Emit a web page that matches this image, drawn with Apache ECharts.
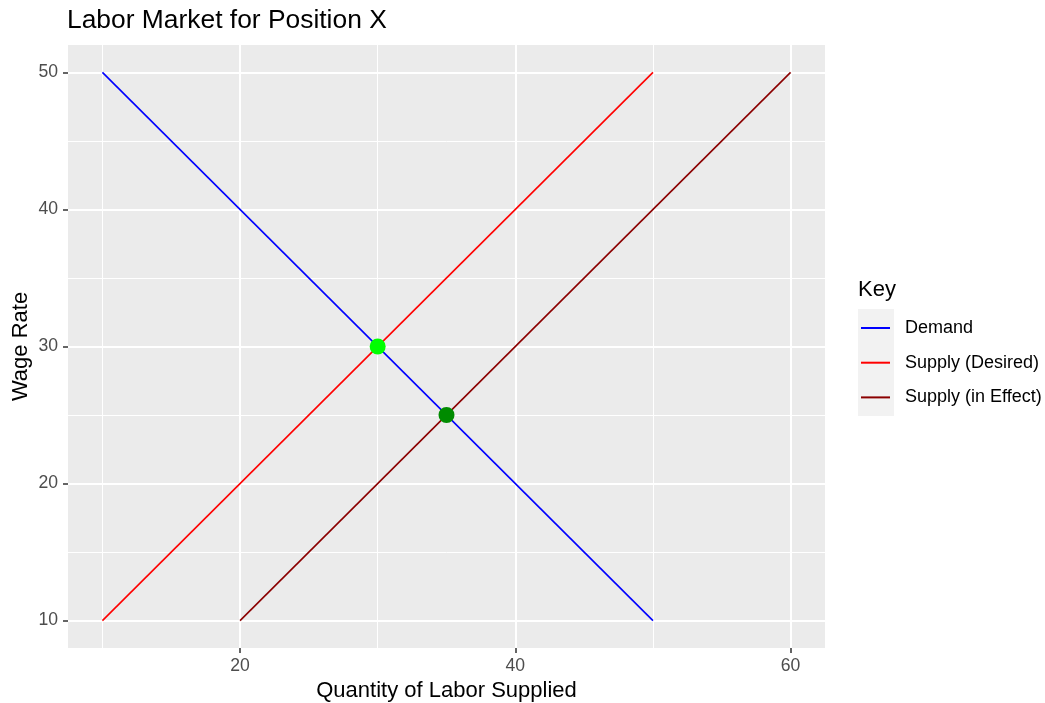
<!DOCTYPE html>
<html>
<head>
<meta charset="utf-8">
<script src="https://cdn.jsdelivr.net/npm/echarts@6/dist/echarts.min.js"></script>
<style>html,body{margin:0;padding:0;background:#fff}#c{width:1045px;height:703px}</style>
</head>
<body>
<div id="c"></div>
<script>
const titleText = 'Labor Market for Position X';
const xTitle = 'Quantity of Labor Supplied';
const yTitle = 'Wage Rate';
const legendTitle = 'Key';

const xMajorTicks = [20, 40, 60];
const xMinorTicks = [10, 30, 50];
const yMajorTicks = [10, 20, 30, 40, 50];
const yMinorTicks = [15, 25, 35, 45];

const demandQty = [10, 50];
const demandWage = [50, 10];
const supplyDesiredQty = [10, 50];
const supplyDesiredWage = [10, 50];
const supplyEffectQty = [20, 60];
const supplyEffectWage = [10, 50];

const eqDesired = [30, 30];
const eqEffect = [35, 25];

const seriesNames = ['Demand', 'Supply (Desired)', 'Supply (in Effect)'];

const pairs = (xs, ys) => xs.map((x, i) => [x, ys[i]]);
const FONT = 'Liberation Sans, Arial, sans-serif';

const chart = echarts.init(document.getElementById('c'), null, {renderer: 'canvas'});

const majorAxisX = {
  type: 'value', min: 7.5, max: 62.5, position: 'bottom',
  axisLine: {show: false},
  axisTick: {show: true, length: 5, lineStyle: {color: '#333333', width: 1.5}, customValues: xMajorTicks},
  axisLabel: {show: true, color: '#4D4D4D', fontSize: 17.6, fontFamily: FONT, margin: 9, customValues: xMajorTicks},
  splitLine: {show: true, lineStyle: {color: '#FFFFFF', width: 2}},
  name: xTitle, nameLocation: 'middle', nameGap: 32, nameMoveOverlap: false,
  nameTextStyle: {color: '#000000', fontSize: 22, fontFamily: FONT}
};
const minorAxisX = {
  type: 'value', min: 7.5, max: 62.5, position: 'bottom',
  axisLine: {show: false},
  axisTick: {show: false, customValues: xMinorTicks},
  axisLabel: {show: false, customValues: xMinorTicks},
  splitLine: {show: true, lineStyle: {color: '#FFFFFF', width: 1}}
};
const majorAxisY = {
  type: 'value', min: 8, max: 52, position: 'left',
  axisLine: {show: false},
  axisTick: {show: true, length: 5, lineStyle: {color: '#333333', width: 1.5}, customValues: yMajorTicks},
  axisLabel: {show: true, color: '#4D4D4D', fontSize: 17.6, fontFamily: FONT, margin: 10, customValues: yMajorTicks},
  splitLine: {show: true, lineStyle: {color: '#FFFFFF', width: 2}},
  name: yTitle, nameLocation: 'middle', nameGap: 36, nameRotate: 90, nameMoveOverlap: false,
  nameTextStyle: {color: '#000000', fontSize: 22, fontFamily: FONT}
};
const minorAxisY = {
  type: 'value', min: 8, max: 52, position: 'left',
  axisLine: {show: false},
  axisTick: {show: false, customValues: yMinorTicks},
  axisLabel: {show: false, customValues: yMinorTicks},
  splitLine: {show: true, lineStyle: {color: '#FFFFFF', width: 1}}
};

const lineSeries = (name, data, color) => ({
  name, type: 'line', data, xAxisIndex: 0, yAxisIndex: 0,
  symbol: 'none', color, lineStyle: {color, width: 1.6}, z: 3, silent: true
});

chart.setOption({
  animation: false,
  backgroundColor: '#FFFFFF',
  textStyle: {fontFamily: FONT},
  title: [
    {text: titleText, left: 67, top: 8, padding: 0,
     textStyle: {fontSize: 26.4, fontWeight: 'normal', color: '#000000', fontFamily: FONT}},
    {text: legendTitle, left: 858, top: 279, padding: 0,
     textStyle: {fontSize: 22, fontWeight: 'normal', color: '#000000', fontFamily: FONT}}
  ],
  grid: {left: 68, right: 220, top: 45, bottom: 55, show: true, backgroundColor: '#EBEBEB', borderWidth: 0,
         containLabel: false, outerBoundsMode: 'none'},
  xAxis: [majorAxisX, minorAxisX],
  yAxis: [majorAxisY, minorAxisY],
  legend: {
    data: seriesNames, orient: 'vertical', left: 861, top: 319, padding: 0,
    icon: 'rect', itemWidth: 29, itemHeight: 2, itemGap: 16.7,
    textStyle: {fontSize: 18, color: '#000000', fontFamily: FONT, lineHeight: 18, padding: [0, 0, 0, 10]},
    selectedMode: false
  },
  graphic: [
    {type: 'rect', left: 858, top: 309, z: -1, shape: {width: 36, height: 107}, style: {fill: '#F2F2F2'}, silent: true}
  ],
  series: [
    lineSeries(seriesNames[0], pairs(demandQty, demandWage), '#0000FF'),
    lineSeries(seriesNames[1], pairs(supplyDesiredQty, supplyDesiredWage), '#FF0000'),
    lineSeries(seriesNames[2], pairs(supplyEffectQty, supplyEffectWage), '#8B0000'),
    {type: 'scatter', name: 'eqDesired', data: [eqDesired], symbolSize: 16, itemStyle: {color: '#00FF00', opacity: 1}, z: 4, silent: true},
    {type: 'scatter', name: 'eqEffect', data: [eqEffect], symbolSize: 16, itemStyle: {color: '#008B00', opacity: 1}, z: 4, silent: true}
  ]
});
</script>
</body>
</html>
